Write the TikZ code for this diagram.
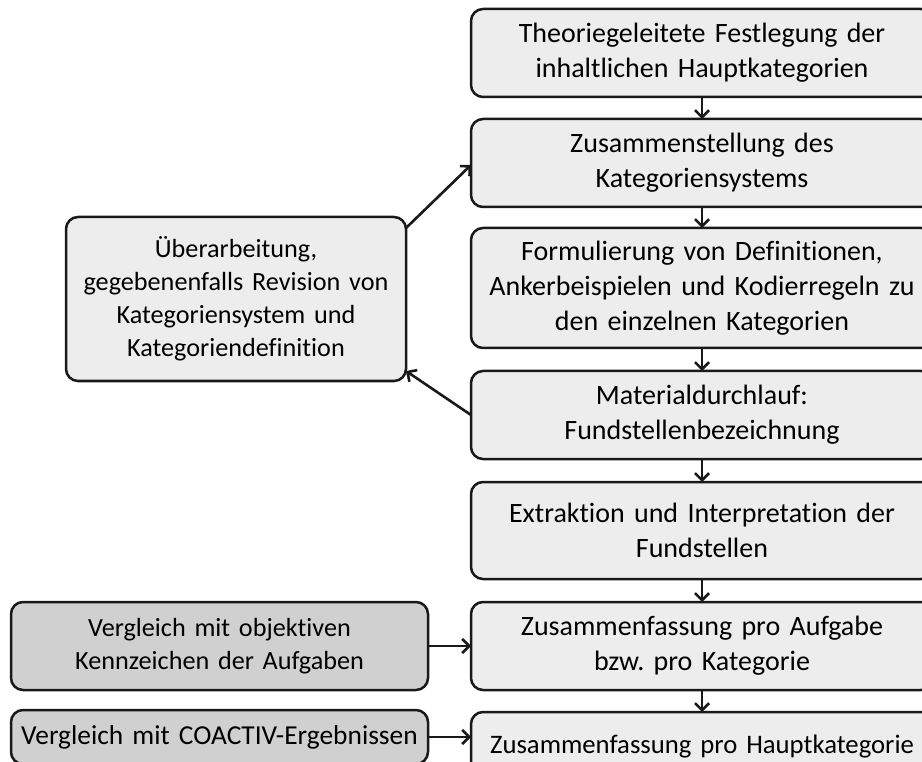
\documentclass[tikz,border=0pt]{standalone}
\usepackage{fontspec}
\setmainfont{Carlito}[Ligatures=NoCommon]
\usetikzlibrary{positioning,arrows.meta}

\definecolor{boxlight}{RGB}{237,237,237}
\definecolor{boxdark}{RGB}{208,208,208}
\definecolor{edge}{RGB}{25,25,25}

\tikzset{
  stepbox/.style={draw=edge, line width=2.5pt, rounded corners=12pt, fill=boxlight,
    align=center, inner sep=0pt, outer sep=0pt, minimum width=462pt, minimum height=88pt,
    text width=452pt, font=\fontsize{28}{35}\selectfont},
  sidebox/.style={stepbox, font=\fontsize{26.2}{33}\selectfont},
  cmpbox/.style={sidebox, fill=boxdark, minimum width=417pt, text width=410pt},
  flow/.style={draw=edge, line width=2.6pt, -{Straight Barb[length=7pt,width=14pt]}}
}

\begin{document}
\frenchspacing
\begin{tikzpicture}[x=1pt,y=1pt]
    \useasboundingbox (0,0) rectangle (922,-762);
    \clip (0,0) rectangle (922,-762);
    \node (t1) [stepbox, anchor=north west] at (471,-9)
      {Theoriegeleitete Festlegung der\\inhaltlichen Hauptkategorien};
    \node (t2) [stepbox, below=22pt of t1] {Zusammenstellung des\\Kategoriensystems};
    \node (t3) [stepbox, below=21pt of t2, minimum height=120pt]
      {Formulierung von Definitionen,\\Ankerbeispielen und Kodierregeln zu\\den einzelnen Kategorien};
    \node (t4) [stepbox, below=23pt of t3] {Materialdurchlauf:\\Fundstellenbezeichnung};
    \node (t5) [stepbox, below=23pt of t4, minimum height=97pt]
      {Extraktion und Interpretation der\\Fundstellen};
    \node (t6) [stepbox, below=23pt of t5] {Zusammenfassung pro Aufgabe\\bzw. pro Kategorie};
    \node (t7) [stepbox, below=22pt of t6, minimum height=70pt, font=\fontsize{26.7}{33}\selectfont]
      {Zusammenfassung pro Hauptkategorie};

    \node (rev) [sidebox, left=65pt of t3, yshift=-11pt, minimum width=340pt,
      text width=336pt, minimum height=164pt]
      {Überarbeitung,\\gegebenenfalls Revision von\\Kategoriensystem und\\Kategoriendefinition};
    \node (obj) [cmpbox, left=43pt of t6] {Vergleich mit objektiven\\Kennzeichen der Aufgaben};
    \node (coa) [cmpbox, left=43pt of t7, yshift=10pt, minimum height=54pt,
      font=\fontsize{27.4}{33}\selectfont] {Vergleich mit COACTIV-Ergebnissen};

    \foreach \a/\b in {t1/t2, t2/t3, t3/t4, t4/t5, t5/t6, t6/t7}
      \draw[flow] (\a) -- (\b);
    \draw[flow] ([yshift=-11pt]rev.north east) -- ([yshift=-2pt]t2.west);
    \draw[flow] (t4.west) -- ([yshift=10pt]rev.south east);
    \draw[flow] (obj) -- (obj -| t6.west);
    \draw[flow] (coa) -- (coa -| t7.west);
  \end{tikzpicture}
\end{document}
